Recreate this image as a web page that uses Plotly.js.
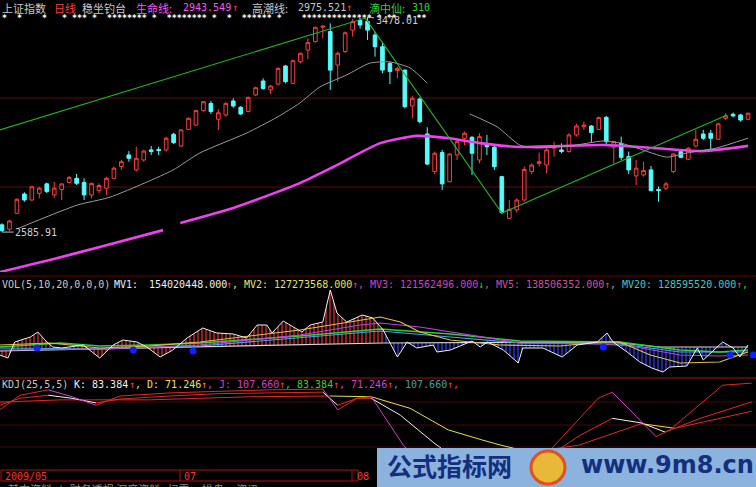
<!DOCTYPE html>
<html><head><meta charset="utf-8">
<script src="https://cdn.plot.ly/plotly-3.0.1.min.js"></script>
<style>html,body{margin:0;padding:0;background:#000;overflow:hidden}#c{width:756px;height:487px}</style>
</head><body><div id="c"></div>
<script>
// ---- Price candles (上证指数 日线), index 0 = late May 2009 ----
const open  = [2616,2598,2664,2744,2719,2747,2786,2740,2763,2791,2809,2792,2740,2758,2768,2809,2858,2906,2844,2885,2927,2929,2927,2992,2943,3012,3030,3090,3120,3054,3072,3130,3104,3086,3155,3213,3176,3200,3275,3203,3293,3341,3376,3436,3418,3279,3335,3424,3465,3460,3404,3355,3286,3256,3258,3109,3138,2993,2837,2916,2795,2906,2975,2979,2885,2947,2938,2816,2643,2678,2719,2837,2871,2864,2934,2927,2920,2989,3023,3026,3012,3062,2938,2954,2899,2819,2823,2844,2763,2768,2837,2920,2888,2943,2993,2996,2971,3058,3075,3072,3054];
const high  = [2622,2636,2726,2751,2777,2774,2791,2795,2788,2819,2827,2809,2791,2788,2816,2858,2885,2922,2940,2927,2943,2940,2982,2998,3012,3061,3093,3130,3131,3095,3124,3141,3109,3148,3189,3224,3196,3270,3279,3300,3330,3390,3438,3442,3452,3335,3418,3470,3475,3478.01,3418,3376,3293,3272,3261,3151,3144,3021,2920,2927,2913,2968,3003,2985,2996,2989,2947,2819,2719,2726,2858,2871,2916,2934,2961,2954,2996,3035,3044,3030,3065,3068,2965,2982,2920,2885,2878,2860,2775,2795,2913,2927,2938,3010,3010,3010,3040,3079,3082,3076,3082];
const low   = [2585.91,2590,2661,2712,2716,2726,2747,2726,2719,2788,2781,2719,2726,2747,2740,2805,2844,2878,2837,2878,2906,2906,2920,2951,2940,3010,3028,3086,3076,3010,3065,3102,3072,3083,3151,3176,3159,3196,3203,3200,3286,3303,3372,3390,3176,3210,3330,3397,3430,3383,3314,3245,3200,3224,3099,3058,3037,2864,2827,2761,2792,2885,2947,2823,2871,2906,2844,2661,2639,2667,2712,2827,2858,2830,2899,2913,2916,2982,3010,2957,3010,2943,2871,2885,2827,2781,2816,2754,2712,2761,2830,2892,2885,2940,2968,2927,2968,3051,3062,3044,3051];
const close = [2592,2632,2722,2719,2774,2768,2754,2768,2786,2813,2788,2740,2788,2779,2809,2851,2878,2892,2892,2922,2920,2924,2975,2957,3010,3058,3090,3127,3086,3081,3120,3109,3076,3145,3185,3182,3192,3265,3210,3297,3328,3372,3436,3441,3258,3328,3413,3459,3445,3424,3355,3258,3252,3265,3106,3141,3044,2868,2913,2786,2910,2961,2996,2913,2982,2940,2857,2667,2680,2719,2846,2864,2878,2927,2943,2920,2989,3026,3030,2999,3061,2961,2961,2896,2844,2851,2841,2758,2758,2786,2910,2896,2934,2971,2975,2975,3035,3068,3068,3051,3079];

// 生命线 (thick magenta) knots: candle index / price
const lifeX = [-0.3,2,6.4,13.1,21.6,null,23.9,31,40,44.4,50.7,55.6,59.7,64.1,69.4,74.8,80.6,87.3,94,100];
const lifeY = [2420,2437,2470,2524,2594,null,2624,2686,2790,2856,2955,2985,2976,2955,2939,2943,2947,2935,2922,2943.5];
// 高潮线 (thin grey) knots
const tideX = [2,10.1,14.5,22.9,26.5,32.8,36.9,39.9,42.6,46.2,49.3,52,54.7,57,null,62.7,66.4,69.4,71.7,76.1,80.6,82.8,85.1,89.1,91.8,95.8,100];
const tideY = [2599,2698,2731,2843,2914,2997,3063,3121,3188,3238,3287,3292,3267,3204,null,3076,3022,2947,2935,2943,2964,2956,2935,2897,2914,2935,2975.5];
// green trend lines
const trendX = [-0.3,48.7,67,97.2];
const trendY = [3010,3474,2665,3072];

// ---- VOL panel (relative volume units) ----
const volX = [-0.3,0.8,1.7,3.8,4.8,6,6.8,8,10.9,13.1,14.9,16.2,18.1,19.4,21.2,22.9,24.8,26.9,28.8,31,32.8,34.2,35.5,36.2,37.7,39,40.2,41.3,43,44,44.9,46.2,48.3,49.7,51.1,53,54.3,55.6,57.8,58.3,60.1,61.4,63,64.1,65.1,67.2,69.2,69.8,72.5,75.1,77.1,79.8,81.1,81.9,83.8,85.5,87.1,88.6,89.5,91.8,93.2,94,96.6,98,98.9,100];
const volY = [20,17,33,38,43,33,28,27,30,17,30,35,33,28,18,25,37,47,42,41,37,50,50,42,54,48,43,50,53,85,62,53,60,57,45,18,33,27,30,23,25,29,34,28,33,25,12,27,27,18,30,33,42,33,23,13,7,3,8,9,27,15,33,27,18,30];
const mvYelX = [-0.3,6.4,13.1,19.8,26.5,33.2,39.9,46.6,50.7,53.4,56,60.1,66.8,74.8,80.2,82.8,86.9,90.9,96.2,100];
const mvYelY = [30,32,27,29,33,39,45,53,58,53,43,35,30,29,33,33,20,12,13,23];
const mvMagX = [-0.3,13.1,26.5,39.9,48,50.7,56,62.7,69.4,80.2,84.2,90.9,96.2,100];
const mvMagY = [25,26,30,40,50,52,48,40,32,31,29,20,19,20];
const mvGrnX = [-0.3,7.8,13.1,19.8,26.5,39.9,50.7,60.1,69.4,82.8,90.9,96.2,100];
const mvGrnY = [28,32,29,30,32,39,46,41,34,33,25,23,25];
const mvCyaX = [-0.3,13.1,26.5,39.9,50.7,60.1,69.4,82.8,90.9,100];
const mvCyaY = [27,26,29,37,44,38,32,31,23,23];
// flat base line, left and right halves (split at index 51.1)
const baseLX = [-0.3,51.1];
const baseLY = [24,32];
const baseRX = [51.1,81.5,88.2,100];
const baseRY = [32,33,28,28];
const dotX = [4.7,17.6,25.6,80.6,97.6,100.7];
const dotY = [27,25,24,28,20,20];

// ---- KDJ(25,5,5) ----
const kX = [-0.3,2.4,6.2,9.4,12.6,15.8,22.5,28.8,35.9,43,45,47.6,49.5,53.4,57.9,60.7,72.8,77.5,81.8,85.7,88.9,93.6,100.5];
const kY = [79,88,92,88,82,87,91,94,95,96,79,88,88,66,30,10,10,40,62,56,44,62,83.4];
const dX = [-0.3,7.8,19.8,33.2,44,49.5,54.7,59.8,64.3,66.9,70.8,77.3,85.7,90.2,100.5];
const dY = [83,86,86,90,91,90,75,47,34,27,18,27,55,49,71.2];
const jX = [-0.3,2.4,6.2,9.4,12.6,15.8,22.5,28.8,35.9,43,45,47.6,49.5,53.8,56,72,79.9,81.8,87.7,89.5,96.6,100.5];
const jY = [73,92,99,90,79,91,95,97,99,100,73,88,90,27,5,5,88,96,38,47,105,107.7];

const idx = open.map((_, i) => i);
const traces = [];
traces.push({type:'scatter',mode:'lines',x:lifeX,y:lifeY,line:{color:'#f040f0',width:2.6,shape:'spline',smoothing:0.6},connectgaps:false,hoverinfo:'skip'});
traces.push({type:'scatter',mode:'lines',x:tideX,y:tideY,line:{color:'#9a9a9a',width:1,shape:'spline',smoothing:0.6},connectgaps:false,hoverinfo:'skip'});
traces.push({type:'scatter',mode:'lines',x:trendX,y:trendY,line:{color:'#22b422',width:1.1},hoverinfo:'skip'});
traces.push({type:'candlestick',x:idx,open,high,low,close,whiskerwidth:0,
  increasing:{line:{color:'#ff3c3c',width:1},fillcolor:'#000000'},
  decreasing:{line:{color:'#54fcfc',width:1},fillcolor:'#54fcfc'},hoverinfo:'skip'});

function ln(x,y,color,w,yax){return {type:'scatter',mode:'lines',x,y,yaxis:yax,line:{color,width:w},hoverinfo:'skip'};}
// hatched volume fills
const split = volX.indexOf(51.1);
traces.push(ln(baseLX,baseLY,'#d8d8d8',1.2,'y2'));
traces.push({type:'scatter',mode:'lines',x:volX.slice(0,split+1),y:volY.slice(0,split+1),yaxis:'y2',line:{width:0},fill:'tonexty',fillcolor:'rgba(0,0,0,0)',
  fillpattern:{shape:'|',size:4,solidity:0.35,fgcolor:'#d02828',bgcolor:'rgba(0,0,0,0)'},hoverinfo:'skip'});
traces.push(ln(baseRX,baseRY,'#d8d8d8',1.2,'y2'));
traces.push({type:'scatter',mode:'lines',x:volX.slice(split),y:volY.slice(split),yaxis:'y2',line:{width:0},fill:'tonexty',fillcolor:'rgba(0,0,0,0)',
  fillpattern:{shape:'|',size:4,solidity:0.35,fgcolor:'#2838e0',bgcolor:'rgba(0,0,0,0)'},hoverinfo:'skip'});
traces.push(ln(mvCyaX,mvCyaY,'#4aa0ff',1.2,'y2'));
traces.push(ln(mvGrnX,mvGrnY,'#30d030',1.4,'y2'));
traces.push(ln(mvMagX,mvMagY,'#c040e0',1.2,'y2'));
traces.push(ln(mvYelX,mvYelY,'#e0c040',1.2,'y2'));
traces.push(ln(volX,volY,'#f0f0f0',1,'y2'));
traces.push({type:'scatter',mode:'markers',x:dotX,y:dotY,yaxis:'y2',marker:{color:'#1020ff',size:7},hoverinfo:'skip'});

function seg(xs,ys,base,up,w){
  for(let k=0;k<xs.length-1;k++){
    const c = ys[k+1]>=ys[k]?up:base;
    traces.push(ln([xs[k],xs[k+1]],[ys[k],ys[k+1]],c,w,'y3'));
  }
}
seg(dX,dY,'#e8e040','#e02828',1);
seg(kX,kY,'#f0f0f0','#e02828',1);
seg(jX,jY,'#d040d0','#e02828',1);

const P = px => 1 - px/487, X = px => px/756;
function hl(px,color){return {type:'line',xref:'paper',yref:'paper',x0:0,x1:1,y0:P(px),y1:P(px),line:{color,width:1},layer:'below'};}
const shapes = [hl(98,'#5a0c0c'),hl(187,'#5a0c0c'),hl(276,'#6a0000'),hl(378,'#a01010'),hl(402,'#4a0606'),hl(425,'#4a0606'),hl(447,'#4a0606'),
  {type:'rect',xref:'paper',yref:'paper',x0:X(1),x1:X(358),y0:P(481),y1:P(470),line:{color:'#b01010',width:1}},
  {type:'line',xref:'paper',yref:'paper',x0:X(180),x1:X(180),y0:P(481),y1:P(470),line:{color:'#b01010',width:1}},
  {type:'line',xref:'paper',yref:'paper',x0:X(352),x1:X(352),y0:P(481),y1:P(470),line:{color:'#b01010',width:1}},
  {type:'rect',xref:'paper',yref:'paper',x0:X(377),x1:1,y0:0,y1:P(448),fillcolor:'#8cb2de',line:{width:0},layer:'above'},
  {type:'circle',xref:'paper',yref:'paper',x0:X(531),x1:X(565),y0:P(484),y1:P(451),fillcolor:'#e8b838',line:{color:'#e05020',width:3},layer:'above'}
];
const cj = 'Noto Sans CJK SC', mono = 'DejaVu Sans Mono, Noto Sans CJK SC';
function tx(text,px,py,color,size,fam,extra){return Object.assign({text,x:X(px),y:P(py),xref:'paper',yref:'paper',xanchor:'left',yanchor:'middle',showarrow:false,font:{color,size,family:fam}},extra||{});}
const TY = 7.5;
const ann = [
  tx('上证指数',0,TY,'#c8c8c8',11,cj), tx('日线',52,TY,'#ff3c3c',11,cj), tx('稳坐钓台',80,TY,'#c8c8c8',11,cj),
  tx('生命线:',134,TY,'#ff50ff',11,cj), tx('2943.549',181,TY,'#ff50ff',10,mono), tx('↑',230,TY,'#ff3c3c',10,mono),
  tx('高潮线:',250,TY,'#c8c8c8',11,cj), tx('2975.521',296,TY,'#c8c8c8',10,mono), tx('↑',344,TY,'#ff3c3c',10,mono),
  tx('滴中仙:',367,TY,'#30d030',11,cj), tx('310',410,TY,'#30d030',10,mono),
  tx('*\u00a0\u00a0*\u00a0\u00a0\u00a0\u00a0*\u00a0\u00a0\u00a0*\u00a0***\u00a0*\u00a0\u00a0********\u00a0*\u00a0\u00a0********\u00a0*\u00a0\u00a0*\u00a0\u00a0******\u00a0*\u00a0\u00a0\u00a0\u00a0**************\u00a0*\u00a0**\u00a0\u00a0*\u00a0**',0,17.5,'#ffffff',8.3,'DejaVu Sans Mono',{font:{color:'#ffffff',size:8.3,family:'DejaVu Sans Mono',weight:'bold'}}),
  {text:'3478.01',x:49,y:3478.01,xref:'x',yref:'y',ax:29,ay:3,showarrow:true,arrowhead:0,arrowwidth:1,arrowcolor:'#c0c0c0',font:{color:'#d0d0d0',size:10,family:mono}},
  {text:'2585.91',x:0,y:2585.91,xref:'x',yref:'y',ax:34,ay:0,showarrow:true,arrowhead:0,arrowwidth:1,arrowcolor:'#c0c0c0',font:{color:'#d0d0d0',size:10,family:mono}},
  tx('VOL(5,10,20,0,0,0)',0,284,'#c8c8c8',10,mono), tx('MV1:',112,284,'#f0f0f0',10,mono), tx('154020448.000',147,284,'#f0f0f0',10,mono), tx('↑',224,284,'#ff3c3c',10,mono),
  tx(', MV2:',230,284,'#e8e060',10,mono), tx('127273568.000',272,284,'#e8e060',10,mono), tx('↑',350,284,'#ff3c3c',10,mono),
  tx(', MV3:',356,284,'#d040d0',10,mono), tx('121562496.000',398,284,'#d040d0',10,mono), tx('↓',476,284,'#30d030',10,mono),
  tx(', MV5:',482,284,'#d050a0',10,mono), tx('138506352.000',524,284,'#d050a0',10,mono), tx('↑',602,284,'#ff3c3c',10,mono),
  tx(', MV20:',608,284,'#40c8c8',10,mono), tx('128595520.000',656,284,'#40c8c8',10,mono), tx('↑',734,284,'#ff3c3c',10,mono), tx(', ',740,284,'#30d030',10,mono),
  tx('KDJ(25,5,5)',0,384,'#c8c8c8',10,mono), tx('K: 83.384',72,384,'#f0f0f0',10,mono), tx('↑',127,384,'#ff3c3c',10,mono),
  tx(', D: 71.246',133,384,'#e8e060',10,mono), tx('↑',199,384,'#ff8030',10,mono),
  tx(', J: 107.660',205,384,'#d040d0',10,mono), tx('↑',277,384,'#ff3c3c',10,mono),
  tx(', 83.384',283,384,'#30d030',10,mono), tx('↑',331,384,'#ff3c3c',10,mono),
  tx(', 71.246',337,384,'#d040d0',10,mono), tx('↑',385,384,'#ff3c3c',10,mono),
  tx(', 107.660',391,384,'#40a0a0',10,mono), tx('↑,',445,384,'#ff3c3c',10,mono),
  tx('2009/05',3,476,'#ff3030',10,mono), tx('07',182,476,'#ff3030',10,mono), tx('08',355,476,'#ff3030',10,mono),
  tx('基本资料\u00a0\u00a0\u00a0|\u00a0\u00a0\u00a0财务透视\u00a0深度资料\u00a0\u00a0\u00a0扫雷\u00a0\u00a0\u00a0\u00a0\u00a0操盘\u00a0\u00a0\u00a0\u00a0\u00a0资讯',6,489,'#8a8a8a',11,cj),
  tx('<b>公式指标网</b>',385,465,'#12307e',25,cj), tx('<b>www.9m8.cn</b>',579,465,'#12307e',24,'DejaVu Sans')
];
const hid = {showgrid:false,zeroline:false,showticklabels:false,showline:false,ticks:''};
const layout = {
  width:756,height:487,margin:{l:0,r:0,t:0,b:0},paper_bgcolor:'#000',plot_bgcolor:'#000',showlegend:false,
  xaxis:Object.assign({range:[-0.27,101.07],rangeslider:{visible:false},domain:[0,1]},hid),
  yaxis:Object.assign({domain:[P(272),1],range:[2420.2,3549]},hid),
  yaxis2:Object.assign({domain:[P(375),P(280)],range:[0,95]},hid),
  yaxis3:Object.assign({domain:[P(455),P(378)],range:[14.3,114.4]},hid),
  shapes, annotations:ann
};
Plotly.newPlot('c',traces,layout,{staticPlot:true,displayModeBar:false});
</script></body></html>
